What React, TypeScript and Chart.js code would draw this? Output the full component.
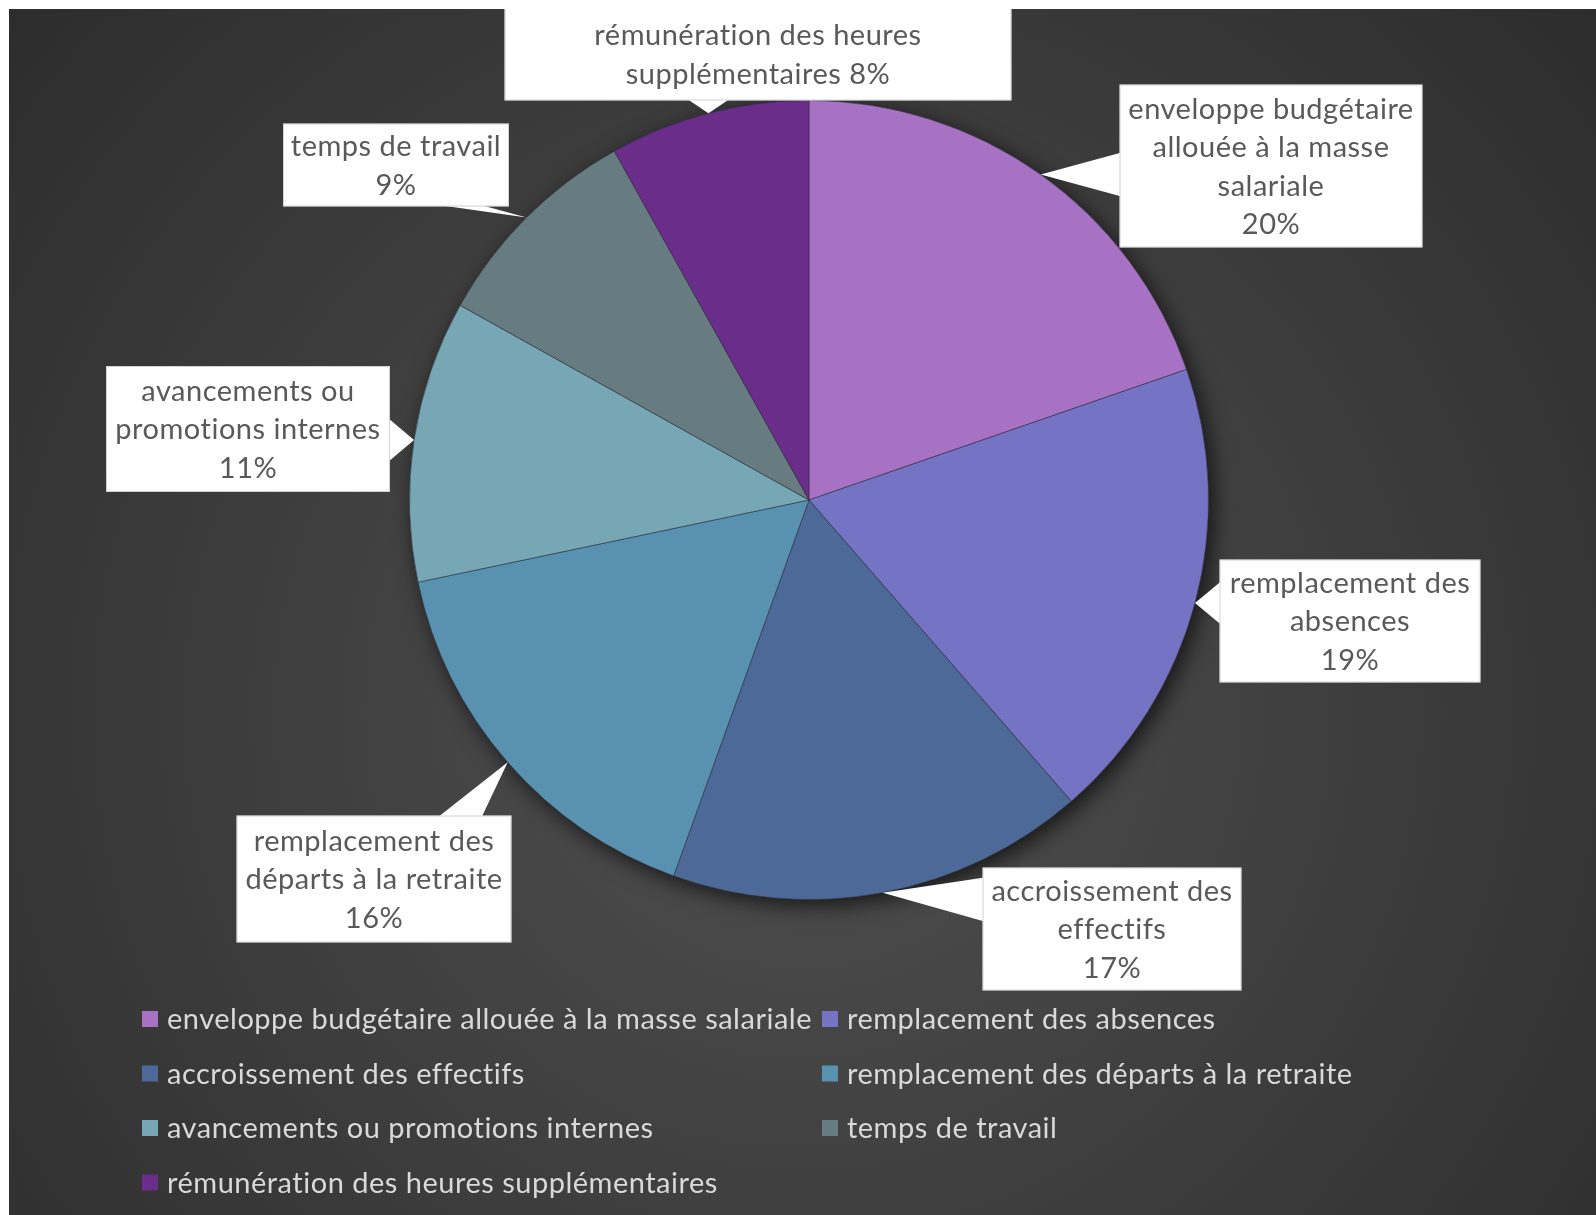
import React, { useEffect, useRef } from "react";
import { Chart, registerables } from "chart.js";

Chart.register(...registerables);

const categories = [
  "enveloppe budgétaire allouée à la masse salariale",
  "remplacement des absences",
  "accroissement des effectifs",
  "remplacement des départs à la retraite",
  "avancements ou promotions internes",
  "temps de travail",
  "rémunération des heures supplémentaires",
];

const values = [19.7, 18.9, 16.9, 16.2, 11.4, 8.8, 8.1];

const sliceColors = ["#A872C4", "#7573C3", "#4D6998", "#5892B0", "#77A7B4", "#677C80", "#6A2E8A"];

// label text lines; {p} is replaced by the computed percentage
const labelLines = [
  ["enveloppe budgétaire", "allouée à la masse", "salariale", "{p}"],
  ["remplacement des", "absences", "{p}"],
  ["accroissement des", "effectifs", "{p}"],
  ["remplacement des", "départs à la retraite", "{p}"],
  ["avancements ou", "promotions internes", "{p}"],
  ["temps de travail", "{p}"],
  ["rémunération des heures", "supplémentaires {p}"],
];

// label box layout relative to the pie centre (dx, dy, width, height)
const labelBoxes = [
  [462, -334, 303, 163],
  [541, 121, 261, 123],
  [303, 429, 259, 123],
  [-435, 379, 275, 127],
  [-561, -71, 284, 126],
  [-413, -335, 226, 83],
  [-51, -446, 507, 93],
];

const FONT = "Lato, 'Open Sans', sans-serif";
const FONT_SIZE = 29;
const LETTER_SPACING = "0.5px";

const bgPlugin = {
  id: "bg",
  beforeDraw(chart: any) {
    const { ctx, width, height } = chart;
    ctx.save();
    const g = ctx.createRadialGradient(width * 0.5, height * 0.58, 0, width * 0.5, height * 0.58, width * 0.72);
    g.addColorStop(0, "#505050");
    g.addColorStop(1, "#2a2a2a");
    ctx.fillStyle = g;
    ctx.fillRect(0, 0, width, height);
    ctx.restore();
  },
  beforeDatasetsDraw(chart: any) {
    const meta = chart.getDatasetMeta(0);
    const a = meta.data[0];
    if (!a) return;
    const { ctx } = chart;
    ctx.save();
    ctx.shadowColor = "rgba(0,0,0,0.7)";
    ctx.shadowBlur = 22;
    ctx.shadowOffsetX = 5;
    ctx.shadowOffsetY = 6;
    ctx.fillStyle = "#444";
    ctx.beginPath();
    ctx.arc(a.x, a.y, a.outerRadius, 0, Math.PI * 2);
    ctx.fill();
    ctx.restore();
  },
};

const setFont = (ctx: any) => {
  ctx.font = `${FONT_SIZE}px ${FONT}`;
  try {
    ctx.letterSpacing = LETTER_SPACING;
  } catch (e) {}
};

const calloutPlugin = {
  id: "callouts",
  afterDatasetsDraw(chart: any) {
    const { ctx } = chart;
    const meta = chart.getDatasetMeta(0);
    const data = chart.data.datasets[0].data as number[];
    const total = data.reduce((s, v) => s + v, 0);
    meta.data.forEach((arc: any, i: number) => {
      const mid = (arc.startAngle + arc.endAngle) / 2;
      const tx = arc.x + Math.cos(mid) * arc.outerRadius;
      const ty = arc.y + Math.sin(mid) * arc.outerRadius;
      const [dx, dy, w, h] = labelBoxes[i];
      const cx = arc.x + dx;
      const cy = arc.y + dy;
      const l = cx - w / 2, r = cx + w / 2, t = cy - h / 2, b = cy + h / 2;
      const bw = 44;
      const clamp = (v: number, lo: number, hi: number) => Math.max(lo, Math.min(hi, v));
      ctx.save();
      ctx.fillStyle = "#ffffff";
      ctx.beginPath();
      if (ty > b || ty < t) {
        const ey = ty > b ? b - 2 : t + 2;
        const px = clamp(tx, l + bw / 2 + 20, r - bw / 2 - 30);
        ctx.moveTo(px - bw / 2, ey);
        ctx.lineTo(tx, ty);
        ctx.lineTo(px + bw / 2, ey);
      } else {
        const ex = tx < l ? l + 2 : r - 2;
        const py = clamp(ty, t + bw / 2 + 10, b - bw / 2 - 10);
        ctx.moveTo(ex, py - bw / 2);
        ctx.lineTo(tx, ty);
        ctx.lineTo(ex, py + bw / 2);
      }
      ctx.closePath();
      ctx.fill();
      ctx.fillRect(l, t, w, h);
      ctx.strokeStyle = "rgba(180,180,180,0.6)";
      ctx.lineWidth = 1;
      ctx.strokeRect(l + 0.5, t + 0.5, w - 1, h - 1);
      const pct = Math.round((data[i] / total) * 100) + "%";
      const lines = labelLines[i].map((s) => s.replace("{p}", pct));
      ctx.fillStyle = "#595959";
      setFont(ctx);
      ctx.textAlign = "center";
      ctx.textBaseline = "middle";
      const lh = 38.5;
      const startY = cy - ((lines.length - 1) * lh) / 2 + 1;
      lines.forEach((ln, k) => ctx.fillText(ln, cx, startY + k * lh));
      ctx.restore();
    });
  },
  afterDraw(chart: any) {
    const { ctx } = chart;
    const colors = chart.data.datasets[0].backgroundColor as string[];
    const labels = chart.data.labels as string[];
    ctx.save();
    setFont(ctx);
    ctx.textBaseline = "middle";
    ctx.textAlign = "left";
    const x0 = 133;
    const marker = 16;
    const gap = 9;
    const col1W = Math.max(...labels.filter((_, i) => i % 2 === 0).map((s) => ctx.measureText(s).width));
    const x1 = x0 + marker + gap + col1W + 10;
    const y0 = 1010;
    const rowH = 54.5;
    labels.forEach((lab, i) => {
      const x = i % 2 === 0 ? x0 : x1;
      const y = y0 + Math.floor(i / 2) * rowH;
      ctx.fillStyle = colors[i];
      ctx.fillRect(x, y - marker / 2, marker, marker);
      ctx.fillStyle = "#d9d9d9";
      ctx.fillText(lab, x + marker + gap, y + 1);
    });
    ctx.restore();
  },
};

export default function App() {
  const ref = useRef<HTMLCanvasElement | null>(null);
  useEffect(() => {
    if (!ref.current) return;
    const chart = new Chart(ref.current, {
      type: "pie",
      data: {
        labels: categories,
        datasets: [
          {
            data: values,
            backgroundColor: sliceColors,
            borderColor: "rgba(45,45,60,0.55)",
            borderWidth: 1,
          },
        ],
      },
      options: {
        animation: false,
        responsive: false,
        events: [],
        layout: { padding: { left: 400, right: 387, top: 91, bottom: 315 } },
        plugins: {
          legend: { display: false },
          tooltip: { enabled: false },
        },
      },
      plugins: [bgPlugin, calloutPlugin],
    });
    return () => chart.destroy();
  }, []);
  return (
    <div style={{ position: "fixed", left: 9, top: 9, width: 1587, height: 1206 }}>
      <canvas ref={ref} width={1587} height={1206} style={{ display: "block" }} />
    </div>
  );
}
